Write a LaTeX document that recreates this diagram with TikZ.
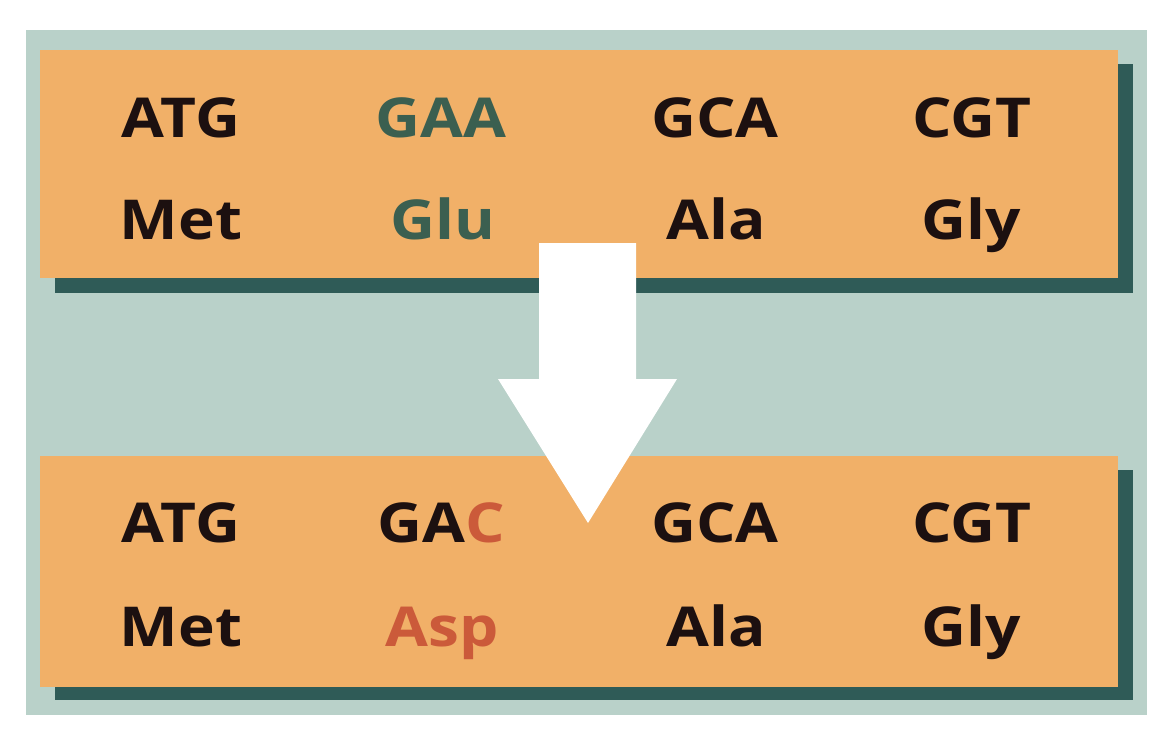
\documentclass[tikz,border=0pt]{standalone}
\usepackage{fontspec}
\setmainfont{Open Sans}[BoldFont={* Bold},FakeStretch=1.13]
\definecolor{bgteal}{HTML}{B9D1C9}
\definecolor{boxorange}{HTML}{F1B068}
\definecolor{shadowteal}{HTML}{2F5B57}
\definecolor{txtdark}{HTML}{1C1010}
\definecolor{txtgreen}{HTML}{3B5F50}
\definecolor{txtred}{HTML}{CB5A3A}
\begin{document}
\begin{tikzpicture}[x=1pt,y=-1pt,
  codon/.style={anchor=base,inner sep=0pt,font=\fontsize{55}{55}\selectfont\bfseries,text=txtdark}]
\useasboundingbox (0,0) rectangle (1166,732);
\fill[white] (0,0) rectangle (1166,732);
\fill[bgteal] (26,30) rectangle (1147,715);
% top box
\fill[shadowteal] (55,64) rectangle (1133,293);
\fill[boxorange] (40,50) rectangle (1118,278);
% bottom box
\fill[shadowteal] (55,470) rectangle (1133,700);
\fill[boxorange] (40,456) rectangle (1118,687);
% arrow
\fill[white] (539,243) -- (636,243) -- (636,379) -- (677,379) -- (588,523) -- (498,379) -- (539,379) -- cycle;
% top texts
\node[codon] (t1) at (181,137) {ATG};
\node[codon,text=txtgreen] (t2) at (441,137) {GAA};
\node[codon] (t3) at (715,137) {GCA};
\node[codon] (t4) at (972,137) {CGT};
\node[codon] (a1) at (181,239) {Met};
\node[codon,text=txtgreen] (a2) at (443,239) {Glu};
\node[codon] (a3) at (716,239) {Ala};
\node[codon] (a4) at (971,239) {Gly};
% bottom texts
\node[codon] (b1) at (181,542) {ATG};
\node[codon] (b2) at (441,542) {GA\textcolor{txtred}{C}};
\node[codon] (b3) at (715,542) {GCA};
\node[codon] (b4) at (972,542) {CGT};
\node[codon] (c1) at (181,646) {Met};
\node[codon,text=txtred] (c2) at (442,646) {Asp};
\node[codon] (c3) at (716,646) {Ala};
\node[codon] (c4) at (971,646) {Gly};
\end{tikzpicture}
\end{document}
